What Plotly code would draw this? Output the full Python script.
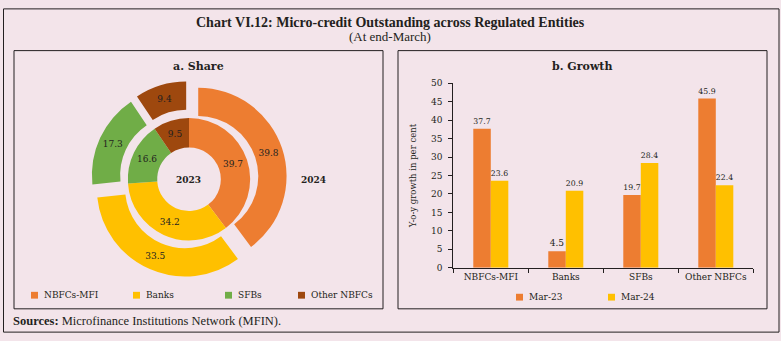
import plotly.graph_objects as go

# ---- data ----
entities = ["NBFCs-MFI", "Banks", "SFBs", "Other NBFCs"]
share_2023 = [39.7, 34.2, 16.6, 9.5]
share_2024 = [39.8, 33.5, 17.3, 9.4]
growth_mar23 = [37.7, 4.5, 19.7, 45.9]
growth_mar24 = [23.6, 20.9, 28.4, 22.4]
bar_series = ["Mar-23", "Mar-24"]
y_ticks = list(range(0, 55, 5))

# ---- styling ----
W, H = 781, 341
BG = "#f3e4ea"
INK = "#231f20"
slice_colors = ["#ED7D31", "#FFC000", "#70AD47", "#9E480E"]
bar_colors = ["#ED7D31", "#FFC000"]
SERIF = "DejaVu Serif"
TITLE_FONT = "Liberation Serif"


def px(x):
    return x / W


def py(y):
    return 1 - y / H


fig = go.Figure()

# ---- panel a: two concentric donuts ----
cx, cy = 189, 179.5
r_in = 63            # outer radius of the 2023 ring
r_out = 91           # outer radius of the 2024 ring (before pull)
pull = 0.11
half_out = r_out * (1 + pull)

fig.add_trace(go.Pie(
    values=share_2023, labels=entities, sort=False, direction="clockwise", rotation=0,
    hole=0.52,
    marker=dict(colors=slice_colors, line=dict(width=0)),
    texttemplate="%{value:.1f}", textposition="inside", insidetextorientation="horizontal",
    textfont=dict(family=SERIF, size=9, color=INK),
    domain=dict(x=[px(cx - r_in), px(cx + r_in)], y=[py(cy + r_in), py(cy - r_in)]),
    showlegend=False, name="2023",
))
fig.add_trace(go.Pie(
    values=share_2024, labels=entities, sort=False, direction="clockwise", rotation=0,
    hole=0.68, pull=[pull] * len(entities),
    marker=dict(colors=slice_colors, line=dict(width=0)),
    texttemplate="%{value:.1f}", textposition="inside", insidetextorientation="horizontal",
    textfont=dict(family=SERIF, size=9, color=INK),
    domain=dict(x=[px(cx - half_out), px(cx + half_out)], y=[py(cy + half_out), py(cy - half_out)]),
    showlegend=False, name="2024",
))

# ---- panel b: grouped bars ----
for name, vals, col in zip(bar_series, [growth_mar23, growth_mar24], bar_colors):
    fig.add_trace(go.Bar(
        x=entities, y=vals, name=name, marker=dict(color=col, line=dict(width=0)),
        texttemplate="%{y:.1f}", textposition="outside", cliponaxis=False,
        textfont=dict(family=SERIF, size=9, color=INK),
        showlegend=False, xaxis="x", yaxis="y",
    ))

ax_left, ax_right = 453.3, 753.3
ax_bottom, ax_top = 270.7, 80.7

fig.update_layout(
    width=W, height=H,
    margin=dict(l=0, r=0, t=0, b=0),
    paper_bgcolor=BG, plot_bgcolor="rgba(0,0,0,0)",
    barmode="group", bargap=0.533, bargroupgap=0,
    xaxis=dict(
        domain=[px(ax_left), px(ax_right)], anchor="y",
        range=[-0.5, 3.5], showline=True, linecolor=INK, linewidth=1,
        ticks="outside", tickson="boundaries", ticklen=4, tickcolor=INK,
        tickfont=dict(family=SERIF, size=9, color=INK), showgrid=False,
    ),
    yaxis=dict(
        domain=[py(ax_bottom), py(ax_top)], anchor="x",
        range=[0, 50], tickvals=y_ticks, showline=True, linecolor=INK, linewidth=1,
        ticks="outside", ticklen=4, tickcolor=INK, ticklabelstandoff=4,
        tickfont=dict(family=SERIF, size=9, color=INK), showgrid=False, zeroline=False,
    ),
    showlegend=False,
)

shapes = []
# outer frame and panel frames
shapes.append(dict(type="rect", xref="paper", yref="paper", x0=px(3.5), x1=px(779), y0=py(337), y1=py(4),
                   line=dict(color=INK, width=1)))
shapes.append(dict(type="rect", xref="paper", yref="paper", x0=px(14), x1=px(383), y0=py(313), y1=py(47),
                   line=dict(color=INK, width=1)))
shapes.append(dict(type="rect", xref="paper", yref="paper", x0=px(398), x1=px(767), y0=py(313), y1=py(47),
                   line=dict(color=INK, width=1)))

annotations = []


def text(x, y, s, size, family=SERIF, bold=False, anchor="center", angle=0):
    annotations.append(dict(
        x=px(x), y=py(y), xref="paper", yref="paper", showarrow=False,
        text=f"<b>{s}</b>" if bold else s, textangle=angle,
        font=dict(family=family, size=size, color=INK),
        xanchor=anchor, yanchor="middle",
    ))


text(390, 18, "Chart VI.12: Micro-credit Outstanding across Regulated Entities", 14, TITLE_FONT, bold=True)
text(390, 32, "(At end-March)", 13, TITLE_FONT)
text(198, 63, "a. Share", 11, bold=True)
text(582, 63, "b. Growth", 11, bold=True)
text(188.5, 180.5, "2023", 9, bold=True)
text(313.5, 180.5, "2024", 9, bold=True)
text(412.7, 175.7, "Y-o-y growth in per cent", 8.5, angle=-90)
annotations.append(dict(
    x=px(11), y=py(325.5), xref="paper", yref="paper", showarrow=False,
    text="<b>Sources:</b> Microfinance Institutions Network (MFIN).",
    font=dict(family=TITLE_FONT, size=12.5, color=INK), xanchor="left", yanchor="middle",
))

# legend for the share panel
for name, col, sx in zip(entities, slice_colors, [31, 133, 225, 298]):
    shapes.append(dict(type="rect", xref="paper", yref="paper", x0=px(sx), x1=px(sx + 7),
                       y0=py(302.5), y1=py(295.5), fillcolor=col, line=dict(width=0)))
    text(sx + 11, 299, name, 9, anchor="left")

# legend for the growth panel
for name, col, sx in zip(bar_series, bar_colors, [516, 608]):
    shapes.append(dict(type="rect", xref="paper", yref="paper", x0=px(sx), x1=px(sx + 7),
                       y0=py(304.5), y1=py(297.5), fillcolor=col, line=dict(width=0)))
    text(sx + 11, 301, name, 9, anchor="left")

fig.update_layout(shapes=shapes, annotations=annotations)

fig.write_html("out.html")
